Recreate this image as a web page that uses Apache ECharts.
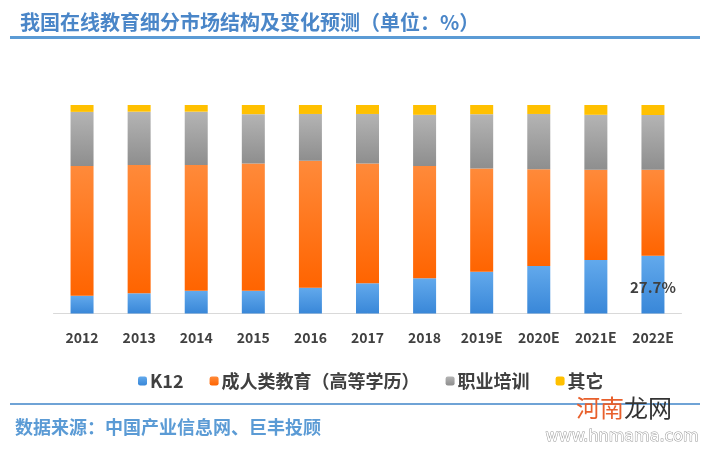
<!DOCTYPE html>
<html><head><meta charset="utf-8">
<script src="https://cdn.jsdelivr.net/npm/echarts@6/dist/echarts.min.js"></script>
<style>html,body{margin:0;padding:0;background:#fff}#c{width:713px;height:449px}</style>
</head><body><div id="c"></div>
<script>
const categories = ['2012','2013','2014','2015','2016','2017','2018','2019E','2020E','2021E','2022E'];
const k12 =        [8.5, 9.7, 10.9, 10.9, 12.4, 14.5, 16.9, 20.0, 22.8, 25.7, 27.7];
const adultEdu =   [62.2, 61.5, 60.3, 61.1, 60.9, 57.4, 53.9, 49.6, 46.4, 43.2, 41.2];
const vocational = [26.0, 25.6, 25.6, 23.6, 22.4, 23.8, 24.5, 26.0, 26.5, 26.4, 26.3];
const others =     [3.3, 3.2, 3.2, 4.4, 4.3, 4.3, 4.7, 4.4, 4.3, 4.7, 4.8];
const seriesNames = ['K12', '成人类教育（高等学历）', '职业培训', '其它'];
const titleText = '我国在线教育细分市场结构及变化预测（单位：%）';
const sourceText = '数据来源：中国产业信息网、巨丰投顾';

const CJK = '"Noto Sans CJK SC", "Noto Sans", sans-serif';
function grad(top, bottom){
  return new echarts.graphic.LinearGradient(0,0,0,1,[{offset:0,color:top},{offset:1,color:bottom}]);
}
const k12Data = k12.map((v,i)=> i===k12.length-1 ? {value:v,label:{show:true,formatter:'27.7%',position:'inside',offset:[0,3],color:'#3f3f3f',fontSize:15,fontWeight:'bold',fontFamily:CJK}} : v);

const chart = echarts.init(document.getElementById('c'), null, {renderer:'canvas'});
chart.setOption({
  animation:false,
  backgroundColor:'#fff',
  title:{text:titleText,left:15,top:7,textStyle:{color:'#4a86c8',fontSize:20,fontWeight:'bold',fontFamily:CJK}},
  grid:{left:53.5,right:31.5,top:105,bottom:135.5},
  legend:{
    data:seriesNames, left:133, top:367, itemWidth:9, itemHeight:9, itemGap:26,
    textStyle:{color:'#404040',fontSize:18,fontWeight:'bold',fontFamily:CJK,padding:[0,0,0,-2]}
  },
  xAxis:{type:'category',data:categories,
    axisLine:{lineStyle:{color:'#d9d9d9',width:1}},axisTick:{show:false},
    axisLabel:{color:'#404040',fontSize:14,fontWeight:'bold',fontFamily:CJK,margin:17}},
  yAxis:{type:'value',min:0,max:100,show:false,splitLine:{show:false}},
  series:[
    {name:seriesNames[0],type:'bar',stack:'s',barWidth:23,data:k12Data,itemStyle:{color:grad('#62a9ec','#3987d8')}},
    {name:seriesNames[1],type:'bar',stack:'s',barWidth:23,data:adultEdu,itemStyle:{color:grad('#ff8a3a','#ff6400')}},
    {name:seriesNames[2],type:'bar',stack:'s',barWidth:23,data:vocational,itemStyle:{color:grad('#b4b4b4','#8e8e8e')}},
    {name:seriesNames[3],type:'bar',stack:'s',barWidth:23,data:others,itemStyle:{color:'#ffc000'}}
  ],
  graphic:[
    {type:'rect',shape:{x:10,y:36,width:690,height:3},style:{fill:'#5b9bd5'},silent:true},
    {type:'rect',shape:{x:10,y:403,width:690,height:2},style:{fill:'#6fa3d6'},silent:true},
    {type:'text',left:15,top:418,style:{text:sourceText,fill:'#5b9bd5',font:'bold 18px '+CJK}},
    {type:'text',left:576,top:396,style:{text:'河南',fill:'#e8602c',font:'24px '+CJK}},
    {type:'text',left:624,top:396,style:{text:'龙网',fill:'#333',font:'24px '+CJK}},
    {type:'text',left:545,top:428,style:{text:'www.hnmama.com',fill:'#fff',stroke:'#999',lineWidth:1,font:'16px "DejaVu Sans"'}}
  ]
});
</script></body></html>
